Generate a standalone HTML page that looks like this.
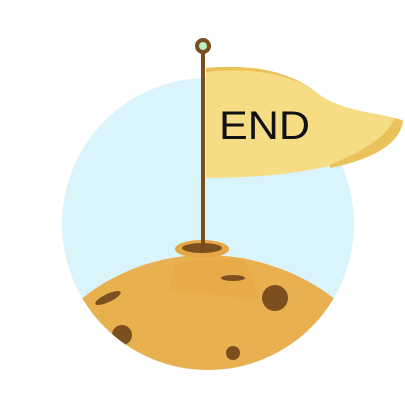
<!DOCTYPE html>
<html><head><meta charset="utf-8"><style>html,body{margin:0;padding:0;background:#fff;width:405px;height:405px;overflow:hidden}svg{display:block}</style></head>
<body>
<svg width="405" height="405" viewBox="0 0 405 405">
<defs><clipPath id="c"><circle cx="208" cy="224" r="146"/></clipPath></defs>
<circle cx="208" cy="224" r="146" fill="#d9f4fb"/>
<g clip-path="url(#c)">
<path d="M40 400 L40 350 C70 290 140 255 205 255 C270 255 335 285 375 340 L375 400 Z" fill="#e8b04f"/>
<path d="M175 262 L245 258 L260 300 L170 290 Z" fill="#e5a744" opacity="0.5"/>
<circle cx="275" cy="298" r="13" fill="#7c4f1f"/>
<circle cx="122" cy="335" r="10" fill="#7c4f1f"/>
<circle cx="233" cy="353" r="7" fill="#7c4f1f"/>
<ellipse cx="233" cy="278" rx="12" ry="3" fill="#7c4f1f"/>
<ellipse cx="108" cy="298" rx="14" ry="4" transform="rotate(-25 108 298)" fill="#7c4f1f"/>
</g>
<ellipse cx="202" cy="249" rx="27" ry="9" fill="#e6a846"/>
<ellipse cx="202" cy="248" rx="20" ry="5" fill="#7c4f1f"/>
<path d="M206 68 C250 64 290 70 320 95 C345 112 375 112 403 120 C395 145 360 160 320 168 C280 176 240 178 206 178 Z" fill="#f7dc86"/>
<path d="M330 165 C365 150 385 138 395 118 L403 121 C400 145 370 160 330 168 Z" fill="#e9c35a"/>
<path d="M206 68 C250 64 290 70 320 95 C300 78 260 66 206 72 Z" fill="#e9c35a"/>
<rect x="201" y="52" width="4" height="196" fill="#7a4f1e"/>
<circle cx="203" cy="46" r="8" fill="#7a4f1e"/>
<circle cx="203" cy="46" r="4" fill="#b4f0c0"/>
<text x="219" y="139" font-family="Liberation Sans, sans-serif" font-size="40" textLength="91" lengthAdjust="spacingAndGlyphs" fill="#111">END</text>
</svg>
</body></html>
